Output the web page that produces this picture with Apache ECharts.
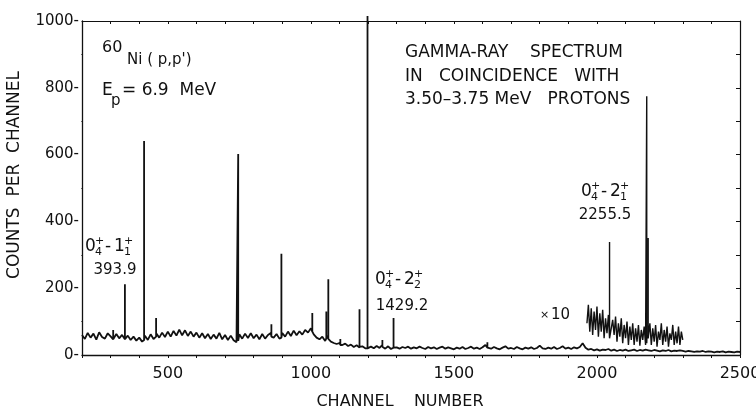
<!DOCTYPE html>
<html>
<head>
<meta charset="utf-8">
<script src="https://cdn.jsdelivr.net/npm/echarts@6/dist/echarts.min.js"></script>
<style>
  html, body { margin: 0; padding: 0; background: #fff; }
  #chart { width: 756px; height: 412px; }
</style>
</head>
<body>
<div id="chart"></div>
<script>
// Axis ticks
const xTickLabels = [500, 1000, 1500, 2000, 2500];
const yTickLabels = [0, 200, 400, 600, 800, 1000];

// Gamma-ray spectrum, counts per channel sampled every 10 channels from channel 200
const bgStart = 200;
const bgStep = 10;
const backgroundCounts = [
  60, 48, 66, 52, 64, 46, 68, 54, 49, 65,
  56, 45, 63, 50, 60, 47, 58, 45, 55, 43,
  52, 40, 58, 45, 62, 48, 64, 52, 67, 54,
  70, 55, 72, 58, 76, 59, 74, 57, 70, 55,
  67, 52, 65, 50, 63, 48, 61, 49, 66, 47,
  60, 45, 58, 44, 38, 62, 49, 64, 51, 65,
  50, 61, 47, 63, 49, 60, 66, 52, 63, 49,
  66, 55, 70, 57, 73, 59, 71, 61, 75, 67,
  80, 62, 52, 47, 55, 42, 56, 40, 36, 33,
  36, 30, 34, 27, 31, 24, 29, 22, 26, 20,
  18, 25, 20, 27, 21, 30, 19, 26, 18, 27,
  23, 19, 24, 21, 25, 19, 23, 20, 25, 21,
  18, 24, 20, 23, 18, 22, 25, 19, 23, 20,
  17, 22, 19, 24, 18, 21, 25, 19, 22, 18,
  23, 30, 22, 19, 24, 20, 17, 22, 26, 19,
  21, 18, 24, 20, 17, 22, 19, 23, 18, 21,
  28, 20, 18, 22, 19, 24, 18, 21, 26, 19,
  22, 18, 23, 20, 24, 35, 22, 16, 18, 14,
  17, 13, 16, 15, 18, 13, 16, 12, 15, 13,
  16, 12, 14, 16, 12, 15, 13, 16, 14, 12,
  15, 13, 11, 14, 12, 15, 11, 13, 12, 14,
  12, 10, 12, 11, 9, 11, 10, 12, 9, 11,
  10, 8, 10, 9, 11, 8, 10, 9, 8, 10,
  9
];

// Photopeaks: [channel, peak counts, counts at the foot of the peak]
const peaks = [
  [309, 75, 47],
  [350, 212, 47],
  [417, 641, 45],
  [459, 111, 55],
  [746, 602, 42],
  [862, 92, 55],
  [897, 303, 52],
  [1005, 126, 70],
  [1054, 130, 50],
  [1061, 227, 48],
  [1103, 48, 30],
  [1170, 137, 24],
  [1198, 1015, 20],
  [1250, 45, 25],
  [1289, 111, 22],
  [1617, 38, 22]
];

// High-energy part drawn magnified ×10, sampled every 5 channels from channel 1965
const x10Start = 1965;
const x10Step = 5;
const x10Counts = [
  95, 150, 70, 140, 60, 130, 75, 145, 55, 125,
  70, 135, 50, 110, 65, 120, 55, 45, 105, 60,
  115, 40, 95, 55, 110, 35, 90, 50, 100, 30,
  85, 45, 95, 30, 80, 40, 90, 28, 75, 45,
  85, 30, 60, 55, 95, 30, 80, 40, 90, 25,
  70, 45, 95, 30, 75, 40, 85, 25, 65, 45,
  90, 30, 70, 35, 85, 30, 70, 45
];
const x10Peaks = [
  [2044, 338, 50],
  [2174, 775, 35],
  [2179, 350, 50]
];

function buildSpectrum(start, step, counts, peakList) {
  const pts = counts.map((c, i) => [start + i * step, c]);
  peakList.forEach(p => {
    pts.push([p[0], p[2]], [p[0], p[1]], [p[0], p[2]]);
  });
  return pts
    .map((p, i) => ({ p, i }))
    .sort((a, b) => (a.p[0] - b.p[0]) || (a.i - b.i))
    .map(o => o.p);
}

const spectrum = buildSpectrum(bgStart, bgStep, backgroundCounts, peaks);
const spectrumX10 = buildSpectrum(x10Start, x10Step, x10Counts, x10Peaks);

const FONT = 'DejaVu Sans';
const INK = '#111';

// Transition label such as 0⁺₄ – 1⁺₁ with stacked super/subscripts
function levelLabel(x, y, a, aSup, aSub, b, bSup, bSub) {
  const main = { fontFamily: FONT, fontSize: 17, fill: INK, verticalAlign: 'middle' };
  const small = { fontFamily: FONT, fontSize: 11, fill: INK, verticalAlign: 'middle' };
  const t = (dx, dy, text, st) => ({ type: 'text', x: x + dx, y: y + dy, style: Object.assign({ text: text }, st) });
  return {
    type: 'group',
    children: [
      t(0, 0, a, main),
      t(10, -6, aSup, small),
      t(10, 5, aSub, small),
      t(20, 0, '-', main),
      t(29, 0, b, main),
      t(39, -6, bSup, small),
      t(39, 5, bSub, small)
    ]
  };
}

function plainText(x, y, text, size, align) {
  return {
    type: 'text', x: x, y: y,
    style: { text: text, fontFamily: FONT, fontSize: size, fill: INK, align: align || 'left', verticalAlign: 'middle' }
  };
}

const chart = echarts.init(document.getElementById('chart'), null, { renderer: 'canvas' });

chart.setOption({
  backgroundColor: '#fff',
  animation: false,
  grid: { left: 82, right: 16, top: 21, bottom: 57, containLabel: false, outerBoundsMode: 'none' },
  xAxis: [
    {
      type: 'value', min: 200, max: 2500, interval: 100,
      axisLine: { show: true, lineStyle: { color: INK, width: 1.3 } },
      axisTick: { show: true, inside: false, length: 3, lineStyle: { color: INK } },
      axisLabel: {
        customValues: xTickLabels,
        formatter: v => String(v),
        margin: 11, fontFamily: FONT, fontSize: 16, color: INK
      },
      splitLine: { show: false }
    },
    {
      type: 'value', position: 'top', min: 200, max: 2500, interval: 100,
      axisLine: { show: true, onZero: false, lineStyle: { color: INK, width: 1.2 } },
      axisTick: { show: true, inside: true, length: 3, lineStyle: { color: INK } },
      axisLabel: { show: false },
      splitLine: { show: false }
    }
  ],
  yAxis: [
    {
      type: 'value', min: 0, max: 1000, interval: 200,
      axisLine: { show: true, onZero: false, lineStyle: { color: INK, width: 1.3 } },
      axisTick: { show: false },
      minorTick: { show: true, splitNumber: 2, length: 1, lineStyle: { color: '#666' } },
      axisLabel: {
        customValues: yTickLabels,
        formatter: v => v + '-',
        margin: 3, fontFamily: FONT, fontSize: 15, color: INK
      },
      splitLine: { show: false }
    },
    {
      type: 'value', position: 'right', min: 0, max: 1000, interval: 100,
      axisLine: { show: true, onZero: false, lineStyle: { color: INK, width: 1.2 } },
      axisTick: { show: true, inside: true, length: 4, lineStyle: { color: INK } },
      axisLabel: { show: false },
      splitLine: { show: false }
    }
  ],
  series: [
    {
      type: 'line', data: spectrum, xAxisIndex: 0, yAxisIndex: 0,
      showSymbol: false, symbol: 'none', clip: false,
      lineStyle: { color: INK, width: 1.8 }
    },
    {
      type: 'line', data: spectrumX10, xAxisIndex: 0, yAxisIndex: 0,
      showSymbol: false, symbol: 'none', clip: false,
      lineStyle: { color: INK, width: 1.4 }
    }
  ],
  graphic: [
    // axis titles
    plainText(400, 402, 'CHANNEL    NUMBER', 16, 'center'),
    {
      type: 'text', x: 15, y: 175, rotation: Math.PI / 2,
      style: { text: 'COUNTS  PER  CHANNEL', fontFamily: FONT, fontSize: 17, fill: INK, align: 'center', verticalAlign: 'middle' }
    },
    // reaction
    plainText(102, 48, '60', 16),
    plainText(127, 60, 'Ni ( p,p\')', 15),
    plainText(102, 91, 'E', 17),
    plainText(111, 101, 'p', 15),
    plainText(122, 91, '= 6.9  MeV', 17),
    // description
    plainText(405, 53, 'GAMMA-RAY    SPECTRUM', 17),
    plainText(405, 77, 'IN   COINCIDENCE   WITH', 17),
    plainText(405, 100, '3.50–3.75 MeV   PROTONS', 17),
    // transitions
    levelLabel(85, 247, '0', '+', '4', '1', '+', '1'),
    plainText(115, 270, '393.9', 15, 'center'),
    levelLabel(375, 280, '0', '+', '4', '2', '+', '2'),
    plainText(402, 306, '1429.2', 15, 'center'),
    levelLabel(581, 192, '0', '+', '4', '2', '+', '1'),
    plainText(605, 215, '2255.5', 15, 'center'),
    // magnification marker
    plainText(540, 315, '×', 11),
    plainText(551, 315, '10', 15)
  ]
});
</script>
</body>
</html>
